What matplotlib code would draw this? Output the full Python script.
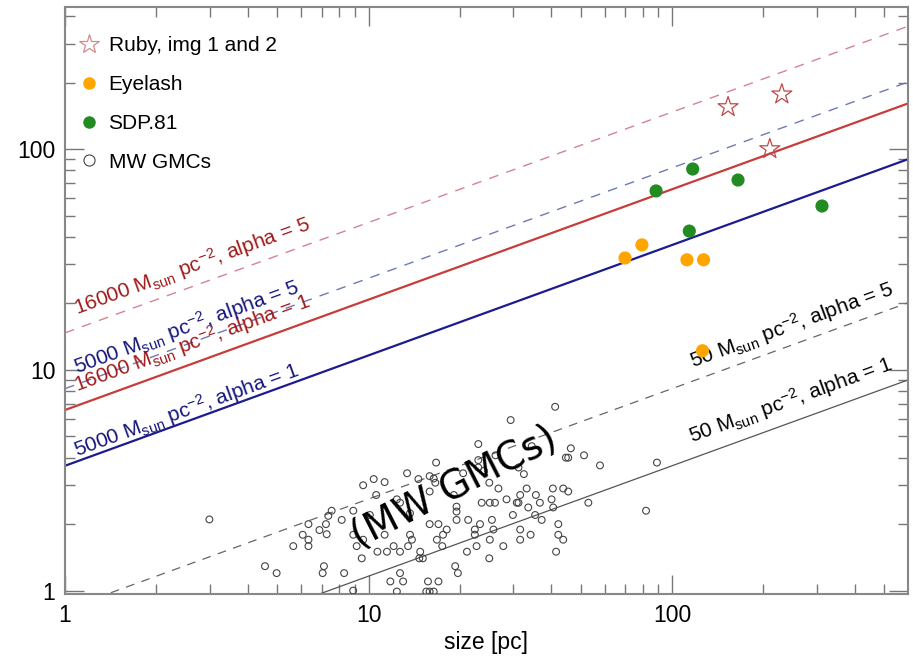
import numpy as np
import matplotlib
matplotlib.use("Agg")
import matplotlib.pyplot as plt
from matplotlib.lines import Line2D
from matplotlib.ticker import LogLocator, FormatStrFormatter, NullFormatter

plt.rcParams['font.family'] = ['Liberation Sans', 'DejaVu Sans']
plt.rcParams['mathtext.fontset'] = 'custom'
plt.rcParams['mathtext.rm'] = 'Liberation Sans'
plt.rcParams['mathtext.it'] = 'Liberation Sans'

# Ruby (img 1 and 2)
ruby_size = [153, 230, 210]
ruby_sigma = [155, 177, 100]

# Eyelash clumps
eyelash_size = [70, 79.6, 112, 127, 126]
eyelash_sigma = [32.1, 36.8, 31.5, 31.5, 12.2]

# SDP.81 clumps
sdp_size = [88.6, 117, 165, 114, 312]
sdp_sigma = [64.6, 81.2, 72.4, 42.5, 55.2]

# Milky Way GMCs
mw_size = [41.2, 29.4, 23.0, 34.5, 46.4, 26.2, 44.7, 45.5, 51.3, 23.0,
           57.9, 16.7, 23.0, 24.0, 31.2, 32.5, 20.5, 13.4, 15.9, 16.4,
           14.6, 10.4, 11.3, 9.6, 16.6, 40.5, 43.8, 45.5, 33.2, 26.8,
           25.0, 19.1, 15.9, 10.6, 35.6, 31.6, 25.1, 26.1, 23.6, 28.5,
           30.8, 31.2, 33.6, 36.7, 40.1, 40.6, 53.0, 12.4, 12.7, 19.5,
           19.5, 35.4, 29.9, 7.56, 8.91, 8.16, 7.37, 10.1, 13.7, 15.9,
           17.0, 19.5, 21.3, 25.5, 37.2, 42.2, 6.34, 7.24, 6.89, 7.28,
           6.07, 6.34, 5.65, 6.34, 8.91, 9.14, 9.6, 11.3, 13.7, 13.9,
           18.1, 17.6, 16.8, 17.5, 23.3, 22.4, 22.4, 25.8, 31.6, 34.2,
           31.6, 25.1, 22.7, 27.8, 42.2, 43.8, 41.5, 21.1, 25.0, 12.1,
           12.7, 13.5, 11.5, 10.7, 14.8, 14.7, 15.1, 9.5, 4.56, 4.98,
           7.13, 7.06, 8.31, 12.7, 11.8, 13.0, 15.7, 17.0, 19.3, 19.7,
           82.1, 2.99, 8.9, 12.4, 15.5, 15.9, 16.4, 89.2]
mw_sigma = [6.80, 5.92, 4.61, 4.51, 4.41, 4.10, 4.00, 4.00, 4.10, 3.90,
            3.69, 3.80, 3.61, 3.49, 3.61, 3.37, 3.40, 3.40, 3.30, 3.22,
            3.20, 3.20, 3.10, 3.00, 3.08, 2.90, 2.90, 2.81, 2.90, 2.90,
            3.08, 2.71, 2.81, 2.71, 2.71, 2.71, 2.50, 2.50, 2.50, 2.59,
            2.50, 2.50, 2.38, 2.50, 2.59, 2.38, 2.50, 2.59, 2.50, 2.40,
            2.28, 2.20, 2.20, 2.30, 2.30, 2.09, 2.18, 2.20, 2.24, 2.00,
            2.00, 2.09, 2.09, 2.09, 2.09, 2.00, 2.00, 2.00, 1.88, 1.80,
            1.79, 1.70, 1.59, 1.59, 1.79, 1.59, 1.70, 1.79, 1.79, 1.70,
            1.89, 1.79, 1.70, 1.59, 2.00, 1.89, 1.79, 1.89, 1.89, 1.79,
            1.70, 1.70, 1.59, 1.59, 1.79, 1.70, 1.50, 1.50, 1.40, 1.59,
            1.50, 1.59, 1.50, 1.50, 1.50, 1.40, 1.40, 1.40, 1.29, 1.20,
            1.29, 1.20, 1.20, 1.20, 1.10, 1.10, 1.10, 1.10, 1.29, 1.20,
            2.30, 2.10, 1.00, 0.99, 0.99, 0.99, 0.99, 3.80]

# virial lines: sigma^2 = pi G Sigma R alpha / 5
G = 4.3e-3  # pc (km/s)^2 / Msun
surf_dens = [16000, 16000, 5000, 5000, 50, 50]
alphas = [5, 1, 5, 1, 5, 1]
line_colors = ['#d4848f', '#c83c3c', '#6e7ab4', '#1c1c8e', '#666666', '#555555']
line_styles = [(0, (7, 6)), '-', (0, (7, 6)), '-', (0, (7, 6)), '-']
line_widths = [1.0, 1.6, 1.0, 1.6, 0.9, 0.9]

label_colors = ['#a11a1a', '#a11a1a', '#16167c', '#16167c', 'black', 'black']
label_pos = [(1.095, 17.7), (1.095, 7.95), (1.095, 9.6), (1.095, 4.04), (117, 10.2), (116, 4.63)]

fig = plt.figure(figsize=(9.13, 6.6), dpi=100)
ax = fig.add_axes([0.0712, 0.1, 0.9233, 0.8894])
ax.set_xscale('log')
ax.set_yscale('log')
ax.set_xlim(1, 599)
ax.set_ylim(0.965, 440)

size = np.logspace(0, np.log10(600), 200)
for sd, al, c, ls, lw in zip(surf_dens, alphas, line_colors, line_styles, line_widths):
    sigma = np.sqrt(np.pi * G * sd * size * al / 5.0)
    ax.plot(size, sigma, color=c, ls=ls, lw=lw, zorder=2)

for sd, al, c, (lx, ly) in zip(surf_dens, alphas, label_colors, label_pos):
    txt = f'{sd} M$_{{sun}}$ pc$^{{-2}}$, alpha = {al}'
    ax.text(lx, ly, txt, color=c, fontsize=15, rotation=20,
            rotation_mode='anchor', ha='left', va='baseline', zorder=3)

ax.scatter(mw_size, mw_sigma, s=24, facecolors='none', edgecolors='#444444',
           linewidths=0.8, zorder=4)
ax.scatter(eyelash_size, eyelash_sigma, s=90, color='#ffa500', edgecolors='none', zorder=5)
ax.scatter(sdp_size, sdp_sigma, s=90, color='#228b22', edgecolors='none', zorder=5)
ax.scatter(ruby_size, ruby_sigma, s=230, marker='*', facecolors='none',
           edgecolors='#c04848', linewidths=0.9, zorder=6)

ax.text(19.2, 2.92, '(MW GMCs)', fontsize=28, family='DejaVu Sans', rotation=27,
        ha='center', va='center', zorder=7)

handles = [
    Line2D([], [], ls='none', marker='*', ms=15, mfc='none', mec='#d08c8c', mew=0.9),
    Line2D([], [], ls='none', marker='o', ms=9, mfc='#ffa500', mec='none'),
    Line2D([], [], ls='none', marker='o', ms=9, mfc='#228b22', mec='none'),
    Line2D([], [], ls='none', marker='o', ms=8, mfc='none', mec='#444444', mew=0.8),
]
names = ['Ruby, img 1 and 2', 'Eyelash', 'SDP.81', 'MW GMCs']
ax.legend(handles, names, loc='upper left', bbox_to_anchor=(-0.004, 0.975), frameon=False,
          fontsize=15, labelspacing=0.95, handletextpad=0.35, handlelength=1.2,
          borderaxespad=0.3)

ax.xaxis.set_major_formatter(FormatStrFormatter('%g'))
ax.yaxis.set_major_formatter(FormatStrFormatter('%g'))
ax.xaxis.set_minor_formatter(NullFormatter())
ax.yaxis.set_minor_formatter(NullFormatter())
ax.xaxis.set_minor_locator(LogLocator(base=10, subs=np.arange(2, 10)))
ax.yaxis.set_minor_locator(LogLocator(base=10, subs=np.arange(2, 10)))
ax.tick_params(which='both', direction='in', top=True, right=True, colors='#777777',
               labelcolor='black', labelsize=16.5, width=1.0)
ax.tick_params(which='major', length=14, pad=7)
ax.tick_params(which='minor', length=7)
for sp in ax.spines.values():
    sp.set_color('#888888')
    sp.set_linewidth(1.5)

ax.set_xlabel('size [pc]', fontsize=16.5, labelpad=3)

fig.savefig('out.png', dpi=100)
